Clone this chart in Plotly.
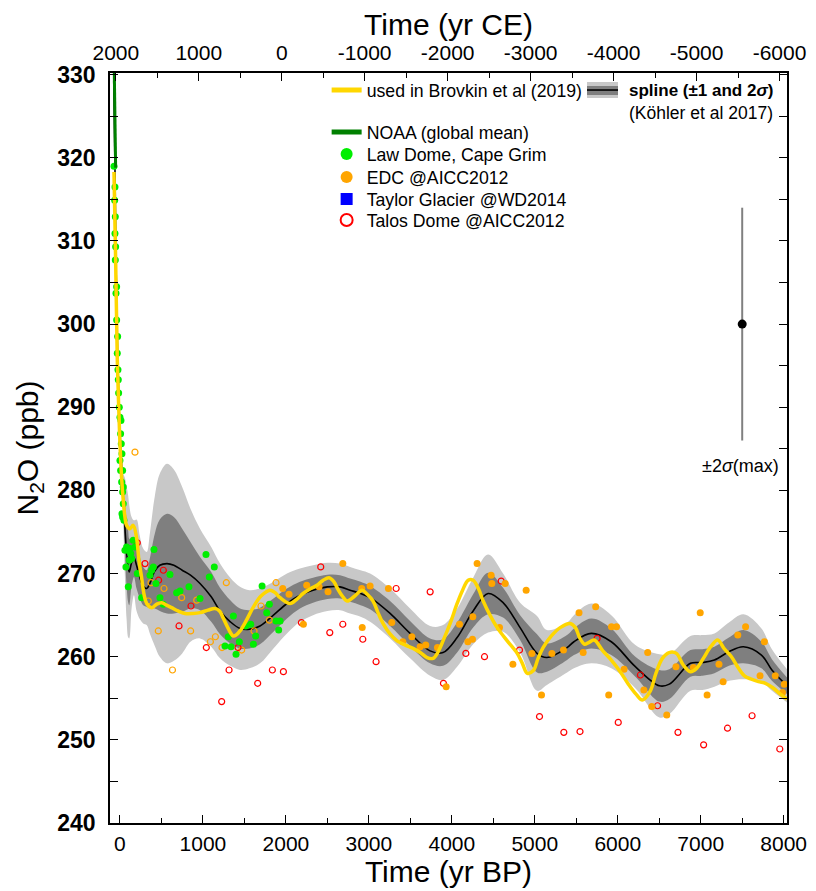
import plotly.graph_objects as go

# ---------------- data ----------------
# Köhler et al 2017 spline, with 1 and 2 sigma half-widths
spl_bp = [-75, -60, -45, -30, -15, 0, 20, 40, 60, 80, 100, 112, 140, 169, 200, 240, 280, 322, 360, 420,
          480, 567, 650, 750, 850, 965, 1100, 1206, 1330, 1447, 1560, 1688, 1850, 2013, 2170, 2327, 2500,
          2653, 2774, 2900, 3015, 3256, 3497, 3738, 3894, 4064, 4257, 4437, 4618, 4823, 5027, 5146, 5389,
          5472, 5681, 5922, 6212, 6502, 6622, 6876, 7020, 7165, 7340, 7515, 7732, 7858, 8040]
spl_n2o = [329.3, 318.6, 306.0, 297.5, 291.5, 287.0, 283.0, 279.0, 275.5, 272.5, 270.8, 270.2, 271.3, 271.9,
           271.0, 269.5, 268.5, 268.2, 268.8, 270.3, 271.0, 271.2, 271.0, 270.4, 269.8, 268.8, 267.2, 265.5,
           264.2, 263.4, 263.3, 263.7, 265.0, 266.4, 267.4, 268.0, 268.4, 268.4, 268.0, 267.6, 267.1, 265.2,
           262.8, 260.7, 260.5, 262.3, 265.5, 267.6, 266.5, 263.5, 260.4, 259.9, 261.1, 261.8, 262.8, 261.8,
           258.8, 256.5, 256.7, 259.2, 259.3, 259.6, 260.6, 261.2, 260.2, 258.4, 256.5]
spl_sig1 = [0.15, 0.2, 0.25, 0.3, 0.4, 0.5, 0.8, 1.5, 3.0, 4.0, 4.3, 4.0, 2.8, 2.3, 2.8, 2.5, 2.3, 2.2, 3.0,
            4.5, 5.5, 6.0, 5.8, 5.0, 4.0, 3.2, 3.0, 2.8, 2.6, 2.4, 2.3, 2.2, 2.0, 1.8, 1.6, 1.5, 1.45, 1.4,
            1.4, 1.4, 1.4, 1.5, 1.5, 1.5, 1.6, 1.8, 2.0, 2.5, 1.8, 1.5, 2.3, 1.7, 1.5, 1.6, 1.8, 1.6, 1.2,
            1.9, 1.8, 1.6, 1.6, 1.6, 1.7, 2.0, 1.6, 1.3, 1.0]
spl_sig2 = [0.3, 0.4, 0.5, 0.6, 0.8, 1.0, 1.5, 3.0, 6.0, 8.0, 8.5, 8.0, 5.5, 4.5, 5.5, 5.0, 4.5, 4.4, 6.0,
            9.0, 11.0, 12.0, 11.5, 10.0, 8.0, 6.6, 6.0, 5.7, 5.3, 5.0, 4.7, 4.5, 4.0, 3.6, 3.2, 3.0, 2.9, 2.8,
            2.8, 2.8, 2.9, 3.0, 3.0, 3.0, 3.3, 3.5, 4.0, 4.7, 3.5, 3.0, 4.5, 3.3, 3.0, 3.2, 3.6, 3.2, 2.6,
            3.8, 3.6, 3.3, 3.3, 3.2, 3.5, 3.9, 3.2, 2.5, 2.0]

# used in Brovkin et al (2019)
brov_bp = [-72, -52, -32, -15, 0, 20, 40, 60, 80, 120, 160, 200, 230, 261, 290, 322, 382, 440, 503, 560, 623,
           700, 784, 880, 965, 1060, 1146, 1200, 1242, 1300, 1363, 1400, 1447, 1520, 1604, 1700, 1809, 1870,
           1930, 2050, 2130, 2207, 2300, 2375, 2450, 2520, 2580, 2617, 2680, 2737, 2830, 2918, 2980, 3050,
           3110, 3171, 3250, 3340, 3440, 3533, 3620, 3702, 3774, 3830, 3894, 3980, 4064, 4130, 4197, 4257,
           4320, 4378, 4460, 4547, 4668, 4788, 4850, 4910, 4980, 5040, 5100, 5200, 5306, 5427, 5490, 5540,
           5600, 5650, 5717, 5820, 5922, 6030, 6128, 6220, 6297, 6393, 6460, 6538, 6620, 6707, 6790, 6876,
           6950, 7032, 7120, 7205, 7280, 7370, 7450, 7527, 7610, 7696, 7780, 7865, 7960, 8040]
brov_n2o = [318.3, 307.7, 295.7, 290.0, 285.7, 281.5, 278.8, 276.8, 275.8, 275.4, 275.8, 274.3, 271.5, 269.5,
            267.5, 266.4, 265.9, 266.3, 266.5, 266.2, 265.9, 265.5, 265.2, 265.2, 265.3, 265.6, 265.8, 265.5,
            264.7, 263.5, 262.5, 262.6, 263.1, 264.3, 265.9, 267.3, 268.0, 267.7, 267.1, 266.4, 266.9, 267.6,
            268.2, 268.6, 269.2, 269.5, 269.0, 268.3, 267.3, 266.7, 267.3, 268.0, 267.5, 266.7, 265.3, 264.0,
            262.8, 261.9, 261.4, 261.0, 260.5, 259.9, 259.8, 260.5, 261.9, 264.0, 266.4, 268.0, 269.2, 269.2,
            268.2, 266.7, 265.0, 263.5, 261.9, 260.4, 259.2, 258.0, 258.3, 259.8, 261.1, 262.5, 263.5, 264.0,
            263.5, 262.3, 261.5, 261.7, 262.0, 260.7, 259.6, 258.2, 256.7, 255.5, 254.8, 255.9, 258.0, 259.8,
            260.5, 260.4, 259.0, 258.2, 258.6, 259.8, 261.2, 262.0, 261.0, 260.0, 258.7, 257.7, 257.3, 257.0,
            256.8, 256.3, 255.5, 254.9]

# NOAA global mean
noaa_bp = [-69, -66, -62, -58, -55, -52]
noaa_n2o = [331.0, 329.5, 327.0, 324.0, 321.5, 318.8]

# Law Dome, Cape Grim
law_bp = [-72, -60, -64, -56, -60, -52, -56, -40, -48, -40, -28, -32, -24, -20, -16, -8, 0, 12, 8, 16, 24,
          32, 40, 0, 8, 20, 32, 40, 24, 32, 48, 60, 80, 100, 121, 129, 141, 112, 72, 100, 160, 181, 209,
          261, 362, 382, 402, 410, 434, 482, 522, 603, 683, 724, 832, 965, 1037, 1077, 1137, 1306, 1367,
          1266, 1339, 1399, 1439, 1515, 1576, 1608, 1636, 1713, 1769, 1801, 1881, 1930, 1913]
law_n2o = [319.0, 316.5, 314.9, 312.9, 310.9, 309.3, 307.7, 304.5, 303.7, 300.5, 298.5, 296.5, 294.5, 293.3,
           291.7, 290.0, 288.8, 288.4, 286.8, 285.6, 284.4, 282.4, 280.4, 283.6, 282.4, 281.0, 279.8, 278.4,
           277.2, 276.8, 276.4, 272.8, 273.2, 272.8, 273.0, 272.4, 271.8, 271.6, 270.8, 268.4, 274.0, 273.2,
           270.0, 267.1, 269.8, 270.4, 270.8, 272.9, 268.8, 267.1, 266.3, 269.9, 267.7, 267.9, 268.4, 267.0,
           272.3, 269.6, 270.8, 262.4, 264.9, 261.3, 261.2, 260.3, 261.8, 263.7, 263.9, 261.5, 262.5, 268.5,
           265.3, 266.3, 264.3, 264.3, 263.2]

# EDC @AICC2012 (filled = used, open = others)
edc_bp = [1962, 2038, 2211, 2251, 2400, 2508, 2686, 2914, 3015, 3236, 2920, 3276, 3409, 3518, 3618, 3686,
          3827, 3932, 4092, 4193, 4249, 4253, 4305, 4474, 4482, 4643, 4575, 4736, 4896, 4965, 5081, 5206,
          5346, 5533, 5583, 5734, 5924, 5985, 5891, 6076, 6315, 6361, 6410, 6591, 6702, 6912, 6994, 7077,
          7220, 7270, 7447, 7541, 7715, 7768, 7899, 7986, 8007]
edc_n2o = [268.2, 267.5, 263.9, 268.6, 268.4, 267.8, 271.2, 268.2, 268.5, 268.2, 263.5, 264.1, 261.8, 262.4,
           261.2, 261.4, 261.1, 256.4, 263.9, 261.8, 262.1, 264.8, 271.2, 269.8, 268.8, 268.8, 263.5, 259.1,
           268.0, 260.4, 255.4, 260.4, 260.8, 265.3, 260.5, 266.0, 263.6, 263.6, 255.4, 258.5, 256.0, 260.5,
           254.0, 253.0, 258.8, 258.7, 265.3, 255.4, 259.1, 257.0, 262.6, 263.6, 257.7, 261.8, 257.7, 255.7,
           256.7]
edc_open_bp = [181, 342, 374, 462, 531, 633, 744, 852, 925, 1090, 1150, 1230, 1282, 1467, 1616, 1700, 1801, 1881]
edc_open_n2o = [284.6, 266.7, 268.9, 263.1, 268.2, 258.4, 267.1, 263.1, 266.8, 261.8, 262.4, 261.1, 268.9,
                260.8, 263.1, 266.1, 264.4, 268.9]

# Taylor Glacier @WD2014 (no samples inside this time window)
taylor_bp = [None]
taylor_n2o = [None]

# Talos Dome @AICC2012
talos_bp = [209, 302, 466, 523, 712, 856, 1041, 1226, 1315, 1423, 1660, 1837, 1970, 2187, 2420, 2529, 2686,
            2927, 3087, 3329, 3739, 3899, 4169, 4394, 4595, 4816, 5057, 5350, 5545, 5751, 6006, 6273, 6480,
            6726, 7035, 7323, 7619, 7953]
talos_n2o = [273.7, 271.2, 269.2, 270.4, 263.7, 266.1, 261.1, 254.6, 258.4, 261.1, 256.8, 258.4, 258.2, 264.1,
             270.8, 262.9, 263.9, 262.1, 259.4, 268.2, 267.8, 256.8, 260.4, 260.0, 269.1, 260.8, 252.8, 250.9,
             251.0, 262.2, 252.1, 257.8, 254.1, 250.9, 249.4, 251.4, 252.9, 248.9]

# maximum 2 sigma example bar
err_bp = [7500]
err_n2o = [300]
err_2sig = [14]

bp_ticks = [0, 1000, 2000, 3000, 4000, 5000, 6000, 7000, 8000]
ce_ticks = [2000, 1000, 0, -1000, -2000, -3000, -4000, -5000, -6000]

BP_RANGE = [-120, 8040]
Y_RANGE = [240, 330.2]

# ---------------- figure ----------------
FONT = "Liberation Sans, Arial, Helvetica, sans-serif"

up2 = [m + s for m, s in zip(spl_n2o, spl_sig2)]
lo2 = [m - s for m, s in zip(spl_n2o, spl_sig2)]
up1 = [m + s for m, s in zip(spl_n2o, spl_sig1)]
lo1 = [m - s for m, s in zip(spl_n2o, spl_sig1)]

fig = go.Figure()
common = dict(hoverinfo="skip", showlegend=False)
fig.add_trace(go.Scatter(x=spl_bp, y=lo2, mode="lines", line=dict(width=0, shape="spline"), **common))
fig.add_trace(go.Scatter(x=spl_bp, y=up2, mode="lines", line=dict(width=0, shape="spline"),
                         fill="tonexty", fillcolor="#c8c8c8", **common))
fig.add_trace(go.Scatter(x=spl_bp, y=lo1, mode="lines", line=dict(width=0, shape="spline"), **common))
fig.add_trace(go.Scatter(x=spl_bp, y=up1, mode="lines", line=dict(width=0, shape="spline"),
                         fill="tonexty", fillcolor="#7f7f7f", **common))
fig.add_trace(go.Scatter(x=spl_bp, y=spl_n2o, mode="lines", line=dict(color="black", width=1.6, shape="spline"),
                         **common))

# points
fig.add_trace(go.Scatter(x=edc_open_bp, y=edc_open_n2o, mode="markers",
                         marker=dict(symbol="circle-open", size=6, color="#ffa500", line=dict(width=1.2)),
                         **common))
fig.add_trace(go.Scatter(x=talos_bp, y=talos_n2o, mode="markers", name="Talos Dome @AICC2012",
                         legend="legend6",
                         marker=dict(symbol="circle-open", size=6, color="#ff0000", line=dict(width=1.2))))
fig.add_trace(go.Scatter(x=taylor_bp, y=taylor_n2o, mode="markers", name="Taylor Glacier @WD2014",
                         legend="legend5",
                         marker=dict(symbol="square", size=8, color="#0000ff")))
fig.add_trace(go.Scatter(x=edc_bp, y=edc_n2o, mode="markers", name="EDC @AICC2012",
                         legend="legend4",
                         marker=dict(symbol="circle", size=7, color="#ffa500")))
fig.add_trace(go.Scatter(x=law_bp, y=law_n2o, mode="markers", name="Law Dome, Cape Grim",
                         legend="legend3",
                         marker=dict(symbol="circle", size=7, color="#00ee00")))
fig.add_trace(go.Scatter(x=brov_bp, y=brov_n2o, mode="lines", name="used in Brovkin et al (2019)",
                         legend="legend",
                         line=dict(color="#ffd700", width=3.5, shape="spline")))
fig.add_trace(go.Scatter(x=noaa_bp, y=noaa_n2o, mode="lines", name="NOAA (global mean)",
                         legend="legend2",
                         line=dict(color="#008000", width=3)))

# error bar example
fig.add_trace(go.Scatter(x=err_bp, y=err_n2o, mode="markers",
                         marker=dict(color="black", size=9),
                         error_y=dict(type="data", array=err_2sig, color="#808080", thickness=2, width=0),
                         **common))

# invisible trace carrying the top (CE) axis
fig.add_trace(go.Scatter(x=[1950 - b for b in spl_bp], y=spl_n2o, xaxis="x2", mode="lines",
                         line=dict(width=0), opacity=0, **common))

axis_common = dict(showline=True, linecolor="black", linewidth=1.5, ticks="inside", ticklen=8,
                   tickcolor="black", tickwidth=1, showgrid=False, zeroline=False, automargin=False)


def leg(ytop):
    return dict(x=0.32, y=ytop, xanchor="left", yanchor="top", bgcolor="rgba(0,0,0,0)",
                font=dict(size=17.7, family=FONT), itemsizing="constant")


# the page adds an 8 px body margin, so the figure is 8 px smaller than the window
fig.update_layout(
    width=808, height=883,
    margin=dict(l=102, r=29, t=65, b=68),
    paper_bgcolor="white", plot_bgcolor="white",
    font=dict(family=FONT, color="black"),
    xaxis=dict(range=BP_RANGE, tickvals=bp_ticks, ticktext=[str(t) for t in bp_ticks],
               minor=dict(dtick=500, tick0=0, ticks="inside", ticklen=5, tickcolor="black"),
               tickfont=dict(size=21), ticklabelstandoff=1,
               title=dict(text="Time (yr BP)", font=dict(size=30), standoff=2),
               **axis_common),
    xaxis2=dict(range=[1950 - BP_RANGE[0], 1950 - BP_RANGE[1]], overlaying="x", side="top", anchor="y",
                tickvals=ce_ticks, ticktext=[str(t) for t in ce_ticks],
                minor=dict(dtick=500, tick0=0, ticks="inside", ticklen=5, tickcolor="black"),
                tickfont=dict(size=21), ticklabelstandoff=3,
                title=dict(text="Time (yr CE)", font=dict(size=30), standoff=4),
                **axis_common),
    yaxis=dict(range=Y_RANGE, dtick=10, tick0=240, mirror="allticks",
               minor=dict(dtick=5, ticks="inside", ticklen=5, tickcolor="black"),
               tickfont=dict(size=23, family="Liberation Sans, Arial", weight="bold"), ticklabelstandoff=8,
               title=dict(text="N<sub>2</sub>O (ppb)", font=dict(size=30), standoff=10),
               **axis_common),
    legend=leg(1.0013),
    legend2=leg(0.9453),
    legend3=leg(0.916),
    legend4=leg(0.8853),
    legend5=leg(0.856),
    legend6=leg(0.828),
)

# spline legend symbol (paper coordinates)
fig.add_shape(type="rect", xref="paper", yref="paper", x0=0.7046, x1=0.7504, y0=0.9667, y1=0.988,
              fillcolor="#c8c8c8", line=dict(width=0))
fig.add_shape(type="rect", xref="paper", yref="paper", x0=0.7046, x1=0.7504, y0=0.9707, y1=0.9827,
              fillcolor="#7f7f7f", line=dict(width=0))
fig.add_shape(type="line", xref="paper", yref="paper", x0=0.7046, x1=0.7504, y0=0.9773, y1=0.9773,
              line=dict(color="black", width=1.6))
fig.add_annotation(xref="paper", yref="paper", x=0.7637, y=0.9773, xanchor="left", yanchor="middle",
                   text="<b>spline (±1 and 2<i>σ</i>)</b>", showarrow=False, font=dict(size=17, family=FONT))
fig.add_annotation(xref="paper", yref="paper", x=0.7637, y=0.9467, xanchor="left", yanchor="middle",
                   text="(Köhler et al 2017)", showarrow=False, font=dict(size=17.5, family=FONT))
fig.add_annotation(xref="x", yref="y", x=7480, y=282.9, xanchor="center", yanchor="middle",
                   text="±2<i>σ</i>(max)", showarrow=False, font=dict(size=18, family=FONT))

fig.write_html("out.html")
